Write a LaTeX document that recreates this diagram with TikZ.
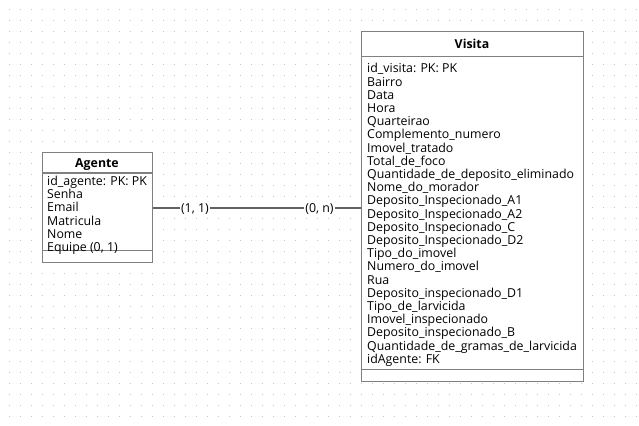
\documentclass[tikz,border=0pt]{standalone}
\usepackage{fontspec}
\setmainfont{Open Sans}
\begin{document}
\begin{tikzpicture}[x=1bp,y=-1bp,
  boxline/.style={draw=black!50,line width=1.4bp},
  entity/.style={boxline,fill=white,inner sep=0pt,anchor=north west},
  title/.style={font=\fontsize{12.4}{14}\selectfont\bfseries,inner sep=0pt,text height=9bp,text depth=0bp},
  attr/.style={font=\fontsize{12.4}{13.2}\selectfont,inner sep=0pt,anchor=west,text height=9bp,text depth=0bp},
  card/.style={font=\fontsize{12.4}{13}\selectfont,fill=white,inner sep=1bp,text height=9bp,text depth=0bp},
  conn/.style={draw=black!62,line width=1.6bp}]
\useasboundingbox (0,0) rectangle (639,425);
\fill[white] (0,0) rectangle (639,425);
% dotted grid
\foreach \i in {0,...,57}{
  \foreach \j in {0,...,37}{
    \fill[black!22] (9+11*\i,9+11*\j) rectangle +(1,1);
  }
}
% Agente entity
\node[entity,minimum width=110bp,minimum height=110bp] (agente) at (42,152) {};
\draw[boxline] (42,173) -- (152,173);
\draw[boxline] (42,250.7) -- (152,250.7);
\node[title] (agenteT) at (97,163) {Agente};
\foreach \t [count=\i] in {id\_agente: PK: PK,Senha,Email,Matricula,Nome,{Equipe (0, 1)}}{
  \node[attr] (a\i) at (47,180.7+13.3*\i-13.3) {\t};
}
% Visita entity
\node[entity,minimum width=222bp,minimum height=350bp] (visita) at (361,31) {};
\draw[boxline] (361,56.7) -- (583,56.7);
\draw[boxline] (361,369.5) -- (583,369.5);
\node[title] (visitaT) at (472,44) {Visita};
\foreach \t [count=\i] in {id\_visita: PK: PK,Bairro,Data,Hora,Quarteirao,Complemento\_numero,Imovel\_tratado,Total\_de\_foco,Quantidade\_de\_deposito\_eliminado,Nome\_do\_morador,Deposito\_Inspecionado\_A1,Deposito\_Inspecionado\_A2,Deposito\_Inspecionado\_C,Deposito\_Inspecionado\_D2,Tipo\_do\_imovel,Numero\_do\_imovel,Rua,Deposito\_inspecionado\_D1,Tipo\_de\_larvicida,Imovel\_inspecionado,Deposito\_inspecionado\_B,Quantidade\_de\_gramas\_de\_larvicida,idAgente: FK}{
  \node[attr] (v\i) at (367,68.3+13.2*\i-13.2) {\t};
}
% connector
\draw[conn] (agente.east) -- (visita.west |- agente.east)
  node[card,pos=0.2] (c1) {(1, 1)}
  node[card,pos=0.8] (c2) {(0, n)};
\end{tikzpicture}
\end{document}
